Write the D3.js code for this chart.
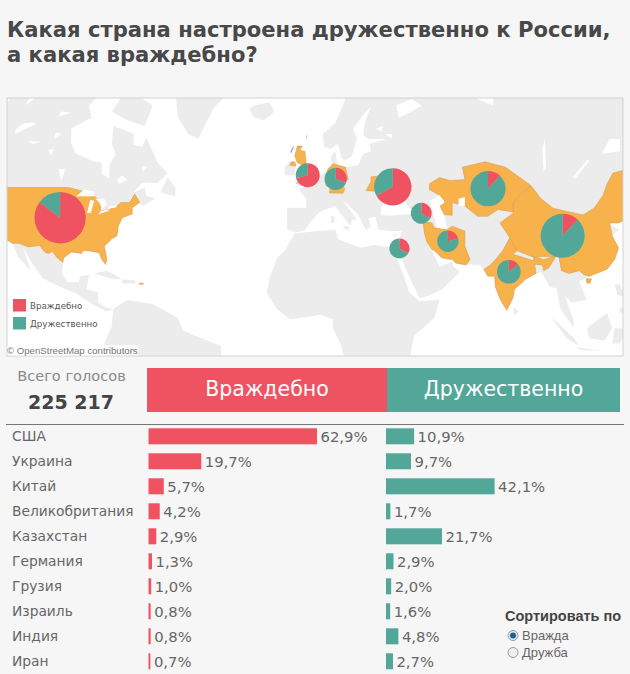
<!DOCTYPE html>
<html><head><meta charset="utf-8">
<script src="https://cdn.jsdelivr.net/npm/d3@7"></script>
<style>html,body{margin:0;padding:0;background:#f6f6f6}svg{display:block}</style>
</head><body><svg id="c" width="630" height="674"></svg>
<script>
const countries=["США","Украина","Китай","Великобритания","Казахстан","Германия","Грузия","Израиль","Индия","Иран"];
const hostile=[62.9,19.7,5.7,4.2,2.9,1.3,1.0,0.8,0.8,0.7];
const friendly=[10.9,9.7,42.1,1.7,21.7,2.9,2.0,1.6,4.8,2.7];
const pieLon=[-98.4,32.6,99.5,-0.9,70.1,10.1,43.8,35.2,78.3,54.3];
const pieLat=[40.6,49.2,35,52.1,48.7,51.2,41.9,30.8,22.6,33.2];
const titleLines=["Какая страна настроена дружественно к России,","а какая враждебно?"];
const seriesNames=["Враждебно","Дружественно"];
const sortOptions=["Вражда","Дружба"];

const land=[
[[-130,75],[-85,75],[-85,70],[-82,68],[-87,66],[-86,64],[-94,62],[-94,59],[-92,57],[-85,55.3],[-82,55],[-82,52.5],[-79,51.3],[-79,54.5],[-76.5,57],[-78,59],[-77.5,62.5],[-72,61.5],[-69.5,61],[-69.5,58.8],[-66,58.5],[-64.5,60.3],[-62,57.5],[-60,55],[-56,52.5],[-60,50.2],[-66,50.2],[-70,47.5],[-65,49],[-64.5,47],[-61,46],[-66,44],[-67,45],[-70,43.5],[-70,41.7],[-74,40.6],[-75.5,38],[-76,35],[-78,34],[-81,31.5],[-80,27],[-80.5,25.2],[-82,27],[-83,29.2],[-85,29.7],[-89,30.2],[-90,29.1],[-94,29.6],[-97,27.5],[-97.7,22],[-95.5,18.8],[-91,18.7],[-90.5,21],[-87,21.5],[-88,16],[-83.5,15],[-83.5,11],[-80,9],[-77.5,8.5],[-80,7.5],[-85,10],[-92,14.5],[-96,16],[-105,20],[-109,25],[-113,31],[-110,23],[-115,28],[-117.2,32.5],[-121,34.5],[-125,40],[-130,50]],
[[-77.5,8.5],[-72,12],[-62,10.5],[-52,5],[-50,0],[-44,-2.5],[-35,-6],[-35,-15],[-80,-15],[-81,-5],[-78,2]],
[[-53,68],[-52,64],[-48,61],[-44,60],[-42,62],[-38,65.5],[-32,68],[-25,70],[-40,78],[-55,75]],
[[-24,65.5],[-22,64],[-18,63.5],[-14,65],[-16,66.5],[-22,66]],
[[-59,47.7],[-53,46.7],[-53,49],[-56,51.5]],
[[-85,22],[-80,23],[-74,20],[-78,20]],
[[-74,19.8],[-69,19.5],[-68.5,18.4],[-74,18.2]],
[[-80,73],[-78,70],[-62,66],[-65,62.5],[-72,63.5],[-78,65],[-73,68],[-85,72]],
[[-116,74],[-108,70],[-100,69.5],[-105,73]],
[[-10,52],[-6,52],[-5.5,54.7],[-8,55.3],[-10,54]],
[[25,72],[15,68],[10,63],[5,61],[5.5,58.5],[8,58],[11,59],[12.5,56],[14,55.5],[16.5,56.5],[18.5,60],[17,62],[21,64.5],[24,65.8],[21.5,63],[21,60.7],[23,60],[30,60],[23.5,59],[24,57.5],[21,57],[19,54.5],[14,54],[11,54],[10,57.5],[8.2,56.5],[8.7,54],[4,52],[2,51],[-1.5,49.5],[-4.5,48.5],[-1.5,46],[-1.5,43.5],[-9,43.5],[-9,37],[-5.5,36],[-2,36.8],[0,39],[3,41.8],[6,43],[10,44],[12.5,41.5],[16,38],[16.5,40],[18.5,40],[13,45.5],[14,45],[19,41.5],[22,36.8],[24,38],[23,40.5],[26,40.8],[26,40],[27,37],[30.5,36.5],[36,36.5],[35,33],[34.5,31.5],[32.5,31],[34,28],[35,29.5],[39,21],[43,13],[45,13],[52,16],[59,22.5],[56.5,24.5],[56,26.2],[51,24.5],[50,26.5],[48,30],[50,30],[54,26.7],[57,27],[62,25.2],[67,25],[70,21],[72.7,21],[73,17],[75,12],[77.5,8],[80,13],[80.5,16],[87,21],[91,22.5],[94.5,17],[97,16.5],[98.5,9],[100.5,6],[103.5,1.5],[104,3],[100.5,13.5],[103,11],[109,12],[106,19],[110,21],[117,23.5],[121.5,30],[119,35],[122,37],[118,38.5],[122,40.8],[125,39.5],[127,36],[130,35],[130,42],[140,48],[140,60],[135,72]],
[[-6,35.8],[10,37],[11,34],[15,32.5],[20,31],[25,32],[32.5,31],[34,28],[37,21],[39,15],[43,11.5],[51,12],[49,5],[41,-2],[39,-12],[14,-12],[12,-5],[9,1],[9,4.5],[4,6.3],[-4,5],[-8,4.5],[-13,8.5],[-17,14.7],[-16,20],[-13,27.5],[-10,30]],
[[80,9.5],[82,7.5],[80.5,6]],
[[120,18],[122,18],[124,13],[121,14]],
[[109,1],[117,7],[119,1],[116,-4],[110,-3]],
[[95,5.5],[104,-3],[106,-6],[101,-3]],
[[105,-6.5],[115,-8],[106,-7.5]],
[[119,-5],[120,1],[125,1],[122,-5]],
[[122,9],[126,9],[126,6],[122,7]],
[[12.5,38],[15.5,38],[15,36.7]],
[[8.2,41],[9.7,41],[9.5,39],[8.4,39]],
[[32.5,35],[34.5,35.6],[33.5,34.6]],
[[52,72],[56,74],[60,76],[68,77],[56,71]]
];
const water=[
[[-92,46.7],[-85,46.7],[-85,48],[-89,48.5]],
[[-87.8,42],[-86.3,42],[-85,45.5],[-86.5,45.7]],
[[-84.5,46],[-81,46],[-80,44.5],[-81.7,43.2],[-83,45]],
[[-83.3,41.6],[-79,42.7],[-79.2,43],[-82.5,42.5]],
[[-79.6,43.3],[-76.3,43.6],[-76.2,44.2],[-79,43.9]],
[[-116,61],[-112,62],[-108,62.8],[-109,63.2],[-113,62.9],[-116,61.8]],
[[-98,50.5],[-96.5,53.5],[-99,53.5]],
[[-122,65],[-118,67],[-123,66.5]],
[[-109,59],[-106,59.5],[-111,59.5]],
[[-75,50],[-72,51],[-74,52],[-76,51]],
[[-99,64.2],[-94,64.8],[-98,65]],
[[-112,66],[-108,67.2],[-110,67.5]],
[[-102,56.5],[-101,58],[-103,57.8]],
[[-101,60],[-98,61],[-100,61.2]],
[[-66,53],[-64,54],[-66,54.3]],
[[28,41.5],[31,41.2],[36,41.5],[41.5,41.7],[38,44.5],[37,45.5],[35,45],[33.5,44.5],[33,46],[30.5,46],[28,43.5]],
[[47,45.5],[51,47],[53,45],[51,44],[53,41],[54,37],[50,37.5],[49,40.5]],
[[58.5,46],[61,46.5],[61,44],[58.5,44]],
[[103.5,51.6],[104.5,51.3],[110,55.5],[109.5,55.8]],
[[92,53],[93,54],[92.5,60],[91.5,58]],
[[40,65],[35,64],[34,66],[40,67],[44,66]],
[[30,61],[32.5,61],[32,60]],
[[26,62],[29,62.5],[28,61.5]],
[[66,67],[72,66],[73,72],[68,72]],
[[115,57],[122,57.5],[122,60],[118,60]]
];
const ownCountries=[
[[-125,49],[-95,49],[-89,48],[-84.5,46.5],[-82.5,45],[-82.5,42.5],[-79,43],[-76,44],[-74.5,45],[-71,45],[-69,47.3],[-67,45],[-70,43.5],[-70,41.7],[-74,40.6],[-75.5,38],[-76,35],[-78,34],[-81,31.5],[-80,27],[-80.5,25.2],[-82,27],[-83,29.2],[-85,29.7],[-89,30.2],[-90,29.1],[-94,29.6],[-97,27.5],[-97.3,26],[-99.5,27.5],[-101.5,29.8],[-103,29],[-104.5,29.6],[-106.5,31.8],[-111,31.3],[-114.7,32.5],[-117.2,32.5],[-121,34.5],[-125,40]],
[[-67.2,18.4],[-65.6,18.4],[-65.7,18],[-67.2,18]],
[[22,48.2],[24,50.5],[24,51.7],[31,52],[34,52.3],[40,49.5],[38,47],[35,46],[33.5,44.5],[33,46],[30,46],[29,45.5],[28,48]],
[[74.8,39],[80,42],[80,45],[83,47],[87,49.5],[91,46],[95.7,43.4],[101,42.5],[107.5,41.4],[112,43.5],[115.4,47],[117,50],[119.3,52.6],[125,53.5],[135,48],[131,43],[124,40],[121.5,39],[118,39],[119,35],[121.5,31],[120,27],[117,23.5],[110,21],[108,21.5],[106,23],[102,22],[99,23],[98,28],[92,28],[88,27.8],[81.5,30],[78.6,34.4]],
[[108.7,20],[110.8,20],[110.3,18.4],[109,18.5]],
[[-5.5,50],[1.3,51.2],[1.7,52.7],[0,53.5],[-1.5,55],[-2,57.5],[-4,57.7],[-3,58.6],[-5,58.6],[-6,56.5],[-5,55],[-3,54.5],[-4.5,53.3],[-5,52],[-3,51.4]],
[[-8,54.4],[-5.5,54.3],[-6,55.2],[-7.3,55.2]],
[[47,50],[51,51.5],[55,50.8],[61,51],[60,54],[69,55.2],[77,54],[87,49.5],[83,47.2],[80,45],[80,42.3],[74,43],[70,41],[66,41],[61,44],[56,45],[56,41.3],[53,41.5],[52,42.5],[51,44.5],[53,45.5],[51,47],[47,48.5]],
[[6,51],[7,53.5],[9,54.8],[14,54],[15,51],[12.2,50.3],[13.7,48.6],[13,47.5],[7.6,47.6],[8,49],[6.3,49.5]],
[[40,43.5],[46,42],[46,41],[41.5,41.5]],
[[34.3,31.3],[35,33],[35.7,33],[35.3,29.5]],
[[78.7,34.4],[81.5,30],[80,28.8],[88,26.5],[88.2,28],[92,27],[97,28.3],[94,24],[92,23],[91.5,25],[88.5,25.3],[89,22],[87,21],[85,20],[80.5,16],[80,13],[77.5,8],[75,12],[73,17],[72.7,21],[70,21],[68.5,23.5],[71,25],[73.6,27.5],[76,30.2]],
[[44.5,39.5],[48,39],[49,37.5],[54,37],[56,38],[61,36.5],[61,31.5],[63,27],[61.5,25],[57.5,25.7],[56,27],[52,27.5],[49,30],[48,30.5],[46,33],[45,36]]
];
const islets=[
[[-7.6,56.9],[-6.2,58.5],[-6.6,58.5],[-7.6,57.6]],
[[-1.6,59.9],[-1,60.7],[-1.4,60.7]]
];

const RED="#ef5361",TEAL="#52a798",ORANGE="#f8b24b",LAND="#ececec",TXT="#666";
const FONT='"DejaVu Sans",sans-serif';
const svg=d3.select("#c");

// title
svg.append("g").selectAll("text").data(titleLines).join("text")
 .attr("x",7).attr("y",(d,i)=>36.5+i*25.5).attr("fill","#484848")
 .attr("font-family",FONT).attr("font-weight","bold")
 .attr("font-size",21.1).text(d=>d);

// map
const mapBox={x:7,y:98,w:616,h:258};
svg.append("clipPath").attr("id","mapClip").append("rect")
 .attr("x",mapBox.x).attr("y",mapBox.y).attr("width",mapBox.w).attr("height",mapBox.h);
svg.append("rect").attr("x",mapBox.x).attr("y",mapBox.y).attr("width",mapBox.w).attr("height",mapBox.h)
 .attr("fill","#fff");
const proj=d3.geoMercator().scale(145.5).translate([310,330.7]);
const lineGen=d3.line();
const ring=r=>lineGen(r.map(p=>proj(p)))+"Z";
const m=svg.append("g").attr("clip-path","url(#mapClip)");
m.append("g").selectAll("path").data(land).join("path").attr("d",ring).attr("fill",LAND);
m.append("g").selectAll("path").data(ownCountries).join("path").attr("d",ring)
 .attr("fill",ORANGE).attr("stroke","#cf9a4e").attr("stroke-width",0.5);
m.append("g").selectAll("path").data(islets).join("path").attr("d",ring).attr("fill","#98a3bd");
m.append("g").selectAll("path").data(water).join("path").attr("d",ring).attr("fill","#fff");

// pies
const rScale=d3.scaleSqrt().domain([0,d3.max(countries,(c,i)=>hostile[i]+friendly[i])]).range([6.6,25.7]);
const pieGen=d3.pie().sort(null);
const pies=m.append("g").selectAll("g").data(countries).join("g")
 .attr("transform",(d,i)=>`translate(${proj([pieLon[i],pieLat[i]])})`);
pies.each(function(d,i){
  const r=rScale(hostile[i]+friendly[i]);
  const arc=d3.arc().innerRadius(0).outerRadius(r);
  d3.select(this).selectAll("path").data(pieGen([hostile[i],friendly[i]])).join("path")
    .attr("d",arc).attr("fill",(a,j)=>j?TEAL:RED);
});
svg.append("rect").attr("x",mapBox.x).attr("y",mapBox.y).attr("width",mapBox.w).attr("height",mapBox.h)
 .attr("fill","none").attr("stroke","#d2d2d2");

// map legend
const lg=svg.append("g").selectAll("g").data(seriesNames).join("g")
 .attr("transform",(d,i)=>`translate(13,${299+i*18})`);
lg.append("rect").attr("width",13).attr("height",12.5).attr("fill",(d,i)=>i?TEAL:RED);
lg.append("text").attr("x",17).attr("y",10).attr("font-family",FONT).attr("font-size",8.7).attr("fill","#555").text(d=>d);
svg.append("rect").attr("x",7.5).attr("y",345).attr("width",131).attr("height",10.5).attr("fill","#fff").attr("opacity",.75);
svg.append("text").attr("x",7).attr("y",354).attr("font-family",'"Liberation Sans",sans-serif').attr("font-size",9.65).attr("fill","#777").text("© OpenStreetMap contributors");

// totals
svg.append("text").attr("x",71.5).attr("y",380.5).attr("text-anchor","middle").attr("font-family",FONT).attr("font-size",14.6).attr("fill","#8a8a8a").text("Всего голосов");
svg.append("text").attr("x",71).attr("y",409).attr("text-anchor","middle").attr("font-family",FONT).attr("font-weight","bold").attr("font-size",19).attr("fill","#444").text("225 217");

// header bands
const headX=[147,387],headW=[240,233];
const hd=svg.append("g").selectAll("g").data(seriesNames).join("g");
hd.append("rect").attr("x",(d,i)=>headX[i]).attr("y",368).attr("width",(d,i)=>headW[i]).attr("height",44).attr("fill",(d,i)=>i?TEAL:RED);
hd.append("text").attr("x",(d,i)=>headX[i]+headW[i]/2).attr("y",396).attr("text-anchor","middle")
 .attr("font-family",FONT).attr("font-size",20.5).attr("fill","#fff").text(d=>d);
svg.append("line").attr("x1",6).attr("x2",624).attr("y1",424.5).attr("y2",424.5).attr("stroke","#777");

// rows
const y=d3.scaleBand().domain(countries).range([424,674]);
const xR=d3.scaleLinear().domain([0,62.9]).range([148.5,317]);
const xT=d3.scaleLinear().domain([0,42.1]).range([386,494.6]);
const fmt=v=>d3.format(".1f")(v).replace(".",",")+"%";
const cy=c=>y(c)+y.bandwidth()/2-0.2;
const rows=svg.append("g");
rows.selectAll("text.n").data(countries).join("text").attr("class","n")
 .attr("x",12).attr("y",c=>cy(c)+5).attr("font-family",FONT).attr("font-size",13.8).attr("fill",TXT).text(c=>c);
[[hostile,xR,RED],[friendly,xT,TEAL]].forEach(([vals,x,col])=>{
  const g=rows.append("g").selectAll("g").data(countries).join("g");
  g.append("rect").attr("x",x(0)).attr("y",c=>cy(c)-8)
   .attr("width",(c,i)=>Math.max(1.6,x(vals[i])-x(0))).attr("height",16).attr("fill",col);
  g.append("text").attr("x",(c,i)=>Math.max(x(0)+1.6,x(vals[i]))+3.5).attr("y",c=>cy(c)+5.3)
   .attr("font-family",FONT).attr("font-size",14.8).attr("fill",TXT).text((c,i)=>fmt(vals[i]));
});

// sort control
const sortX=505;
svg.append("rect").attr("x",498).attr("y",604).attr("width",132).attr("height",64).attr("fill","#f6f6f6");
svg.append("text").attr("x",sortX).attr("y",621).attr("font-family",'"Liberation Sans",sans-serif').attr("font-weight","bold").attr("font-size",14.5).attr("fill","#444").text("Сортировать по");
const so=svg.append("g").selectAll("g").data(sortOptions).join("g").attr("transform",(d,i)=>`translate(513,${635.5+i*17})`);
so.append("circle").attr("r",5).attr("fill",(d,i)=>i?"#eee":"#dfe9f5").attr("stroke","#999");
so.filter((d,i)=>i===0).append("circle").attr("r",3).attr("fill","#1d5f8f");
so.append("text").attr("x",9).attr("y",4.5).attr("font-family",'"Liberation Sans",sans-serif').attr("font-size",13).attr("fill","#666").text(d=>d);
</script></body></html>
